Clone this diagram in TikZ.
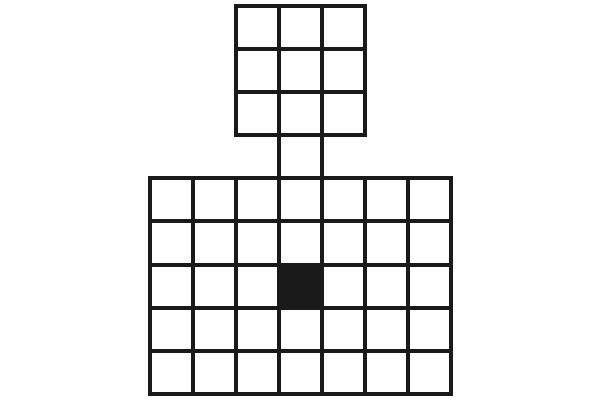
\documentclass[tikz,border=0pt]{standalone}
\begin{document}
\begin{tikzpicture}[x=1pt,y=-1pt,
  gridline/.style={line width=4pt,draw={rgb,255:red,26;green,26;blue,26}},
  blackcell/.style={fill={rgb,255:red,26;green,26;blue,26}}]
\useasboundingbox (0,0) rectangle (600,400);
\def\c{43.1}
% black cell
\fill[blackcell] (149.5+3*\c,178.3+2*\c) rectangle (149.5+4*\c,178.3+3*\c);
% bottom grid 7x5
\foreach \i in {0,...,7} \draw[gridline] (149.5+\i*\c,178.3) -- (149.5+\i*\c,178.3+5*\c);
\foreach \j in {0,...,5} \draw[gridline,line cap=rect] (149.5,178.3+\j*\c) -- (149.5+7*\c,178.3+\j*\c);
% top grid 3x3
\foreach \i in {0,...,3} \draw[gridline] (149.5+2*\c+\i*\c,5.7) -- (149.5+2*\c+\i*\c,5.7+3*\c);
\foreach \j in {0,...,3} \draw[gridline,line cap=rect] (149.5+2*\c,5.7+\j*\c) -- (149.5+5*\c,5.7+\j*\c);
% connector
\draw[gridline] (149.5+3*\c,5.7+3*\c) -- (149.5+3*\c,178.3);
\draw[gridline] (149.5+4*\c,5.7+3*\c) -- (149.5+4*\c,178.3);
\end{tikzpicture}
\end{document}
